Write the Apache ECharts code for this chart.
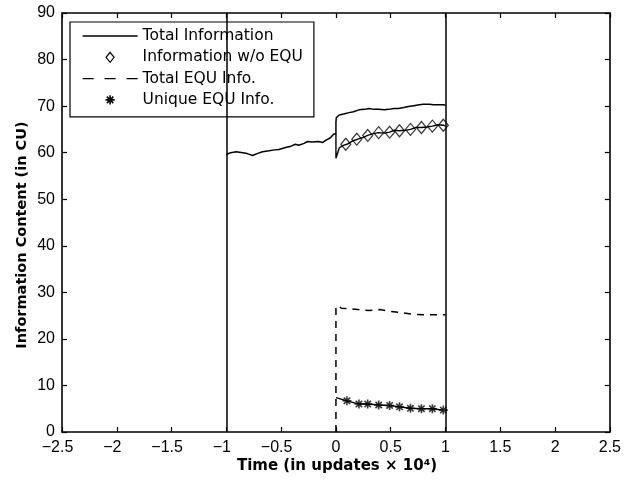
<!DOCTYPE html>
<html>
<head>
<meta charset="utf-8">
<script src="https://cdn.jsdelivr.net/npm/echarts@6/dist/echarts.min.js"></script>
<style>
html,body{margin:0;padding:0;background:#fff;}
#chart{width:624px;height:487px;}
</style>
</head>
<body>
<div id="chart"></div>
<script>
// ---- data (time in updates x 10^4, information content in CU) ----
var totalInfoT = [-1.00,-0.96,-0.91,-0.85,-0.81,-0.76,-0.72,-0.67,-0.61,-0.56,-0.52,-0.46,-0.41,-0.37,-0.34,-0.29,-0.26,-0.22,-0.16,-0.12,-0.09,-0.05,-0.02,0.00,
                  0.00,0.003,0.03,0.07,0.12,0.16,0.21,0.26,0.30,0.35,0.39,0.44,0.48,0.53,0.57,0.62,0.66,0.71,0.76,0.80,0.85,0.89,0.94,0.98,1.00];
var totalInfoV = [59.6,60.0,60.2,60.0,59.8,59.4,59.8,60.2,60.4,60.6,60.7,61.1,61.4,61.8,61.6,62.0,62.4,62.3,62.4,62.2,62.7,63.2,64.0,64.0,
                  66.5,67.5,68.1,68.3,68.6,68.8,69.2,69.3,69.5,69.3,69.3,69.2,69.3,69.5,69.5,69.7,69.9,70.1,70.3,70.4,70.4,70.3,70.3,70.3,70.2];

var woEquLineT = [0.00,0.00,0.03,0.06,0.10,0.15,0.20,0.25,0.29,0.34,0.39,0.44,0.49,0.53,0.58,0.63,0.68,0.73,0.78,0.83,0.88,0.93,0.98,1.00];
var woEquLineV = [64.0,58.8,61.0,61.5,61.8,62.5,62.9,63.3,63.7,64.1,64.3,64.2,64.4,64.8,64.7,64.8,65.0,65.4,65.4,65.5,65.7,66.0,65.9,65.7];
var woEquMarkT = [0.09,0.19,0.29,0.39,0.49,0.58,0.68,0.78,0.88,0.98];
var woEquMarkV = [61.8,62.9,63.7,64.3,64.4,64.7,65.0,65.4,65.7,65.9];

var totalEquT = [0.00,0.00,0.02,0.05,0.10,0.20,0.30,0.40,0.50,0.60,0.70,0.80,0.90,1.00];
var totalEquV = [0.0,27.0,27.1,26.6,26.5,26.3,26.1,26.3,25.9,25.6,25.3,25.2,25.2,25.2];

var uniqueLineT = [0.00,0.10,0.21,0.29,0.39,0.49,0.58,0.68,0.78,0.88,0.98];
var uniqueLineV = [7.4,6.7,6.0,6.0,5.8,5.7,5.4,5.1,5.0,5.0,4.7];
var uniqueMarkT = [0.10,0.21,0.29,0.39,0.49,0.58,0.68,0.78,0.88,0.98];
var uniqueMarkV = [6.7,6.0,6.0,5.8,5.7,5.4,5.1,5.0,5.0,4.7];

var eventTimes = [-1, 1];
var seriesNames = ['Total Information', 'Information w/o EQU', 'Total EQU Info.', 'Unique EQU Info.'];
var xTitle = 'Time (in updates \u00d7 10\u2074)';
var yTitle = 'Information Content (in CU)';

function pairs(t, v) { return t.map(function (x, i) { return [x, v[i]]; }); }

var STAR = 'M-0.8,-4.6L0.8,-4.6L0.8,4.6L-0.8,4.6Z M-4.6,-0.8L4.6,-0.8L4.6,0.8L-4.6,0.8Z M-3.82,-2.68L-2.68,-3.82L3.82,2.68L2.68,3.82Z M-2.68,3.82L-3.82,2.68L2.68,-3.82L3.82,-2.68Z';
var tickFont = 'Liberation Sans';

var chart = echarts.init(document.getElementById('chart'), null, {renderer: 'canvas'});

function xAx(pos, showLabel) {
  return {
    type: 'value', position: pos, min: -2.5, max: 2.5, interval: 0.5,
    axisLine: {show: true, onZero: false, lineStyle: {color: '#000', width: 1.6}},
    axisTick: {show: true, inside: true, length: 5, lineStyle: {color: '#000', width: 1.2}},
    axisLabel: {show: showLabel, color: '#000', fontSize: 16, fontFamily: tickFont, margin: 8,
      formatter: function (v) {
        return v < 0 ? String(v).replace('-', '\u2212') + '{s| }' : String(v);
      },
      rich: {s: {width: 9, fontSize: 16}}},
    splitLine: {show: false}
  };
}
function yAx(pos, showLabel) {
  return {
    type: 'value', position: pos, min: 0, max: 90, interval: 10,
    axisLine: {show: true, onZero: false, lineStyle: {color: '#000', width: 1.6}},
    axisTick: {show: true, inside: true, length: 5, lineStyle: {color: '#000', width: 1.2}},
    axisLabel: {show: showLabel, color: '#000', fontSize: 16, fontFamily: tickFont, margin: 7},
    splitLine: {show: false}
  };
}

var option = {
  animation: false,
  backgroundColor: '#fff',
  color: ['#000'],
  grid: {left: 62, right: 12, top: 13, bottom: 55, containLabel: false},
  xAxis: [xAx('bottom', true), xAx('top', false)],
  yAxis: [yAx('left', true), yAx('right', false)],
  legend: {
    orient: 'vertical', left: 70, top: 22,
    backgroundColor: '#fff', borderColor: '#000', borderWidth: 1.2, borderRadius: 0,
    padding: [6, 11, 9, 12],
    itemWidth: 55, itemHeight: 14, itemGap: 5.3,
    symbolKeepAspect: true,
    textStyle: {color: '#000', fontSize: 15.5, fontFamily: 'DejaVu Sans', lineHeight: 15},
    data: [
      {name: seriesNames[0], icon: 'path://M0,0H55V1.3H0Z', itemStyle: {color: '#000', borderWidth: 0}},
      {name: seriesNames[1], icon: 'path://M27.5,-5L31.5,0L27.5,5L23.5,0Z M0,-7 M55,7', itemStyle: {color: 'rgba(0,0,0,0)', borderColor: '#000', borderWidth: 1.2}},
      {name: seriesNames[2], icon: 'path://M0,0H11V1.3H0Z M22,0H33V1.3H22Z M44,0H55V1.3H44Z', itemStyle: {color: '#000', borderWidth: 0}},
      {name: seriesNames[3], icon: 'path://' + STAR + ' M-27.5,-7 M27.5,7', itemStyle: {color: '#000', borderWidth: 0}}
    ]
  },
  series: [
    {
      name: seriesNames[0], type: 'line', data: pairs(totalInfoT, totalInfoV),
      symbol: 'none', lineStyle: {color: '#000', width: 1.5}, z: 3,
      markLine: {
        silent: true, symbol: ['none', 'none'], label: {show: false},
        lineStyle: {color: '#000', type: 'solid', width: 1.5},
        data: eventTimes.map(function (t) { return {xAxis: t}; })
      }
    },
    {
      name: seriesNames[1], type: 'line', data: pairs(woEquLineT, woEquLineV),
      symbol: 'none', lineStyle: {color: '#000', width: 1.4}
    },
    {
      name: seriesNames[1], type: 'scatter', data: pairs(woEquMarkT, woEquMarkV),
      symbol: 'diamond', symbolSize: [10, 12],
      itemStyle: {color: 'rgba(0,0,0,0)', borderColor: '#000', borderWidth: 1.2}
    },
    {
      name: seriesNames[2], type: 'line', data: pairs(totalEquT, totalEquV),
      symbol: 'none', lineStyle: {color: '#000', width: 1.5, type: [7, 6]}
    },
    {
      name: seriesNames[3], type: 'line', data: pairs(uniqueLineT, uniqueLineV),
      symbol: 'none', lineStyle: {color: '#000', width: 1.4}
    },
    {
      name: seriesNames[3], type: 'scatter', data: pairs(uniqueMarkT, uniqueMarkV),
      symbol: 'path://' + STAR, symbolSize: 9,
      itemStyle: {color: '#000'}
    }
  ],
  graphic: [
    {type: 'text', x: 22, y: 235, rotation: Math.PI / 2,
     style: {text: yTitle, font: 'bold 14.5px "DejaVu Sans"', fill: '#000', align: 'center', verticalAlign: 'middle', textAlign: 'center', textVerticalAlign: 'middle'}},
    {type: 'text', x: 337, y: 466,
     style: {text: xTitle, font: 'bold 15px "DejaVu Sans"', fill: '#000', align: 'center', verticalAlign: 'middle', textAlign: 'center', textVerticalAlign: 'middle'}}
  ]
};
chart.setOption(option);
</script>
</body>
</html>
